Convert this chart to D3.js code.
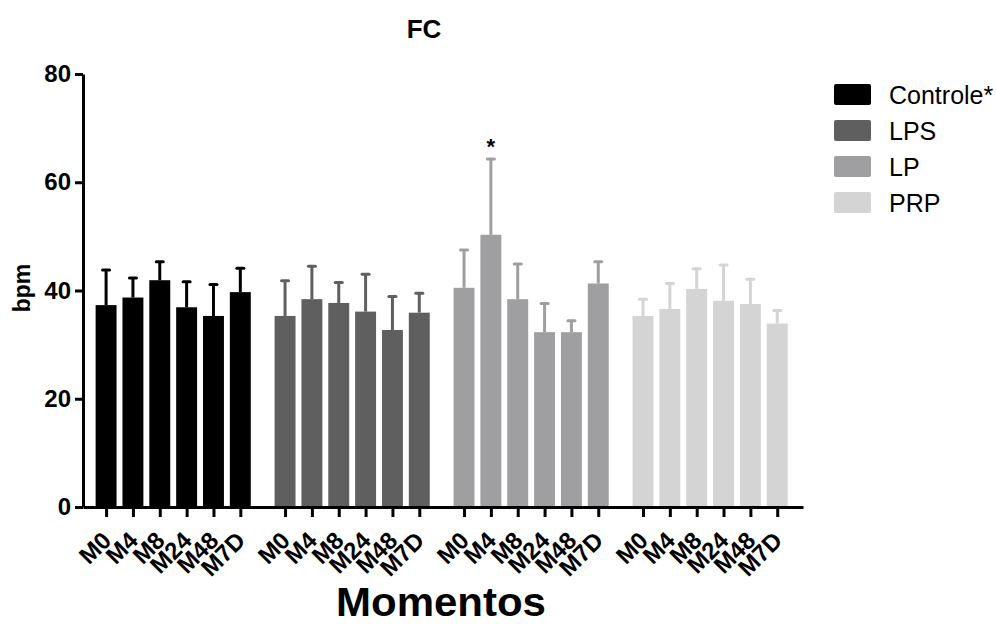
<!DOCTYPE html>
<html><head><meta charset="utf-8">
<script src="https://cdn.jsdelivr.net/npm/d3@7"></script>
<style>body{margin:0;background:#fff}svg{display:block}text{font-family:"Liberation Sans",Arial,sans-serif}</style>
</head><body>
<svg id="c" width="996" height="624"></svg>
<script>
const groups = ["Controle*", "LPS", "LP", "PRP"];
const moments = ["M0", "M4", "M8", "M24", "M48", "M7D"];
const colors = ["#000000", "#5f5f5f", "#9f9fa1", "#d4d4d4"];
const meanControle = [37.3, 38.7, 41.9, 36.9, 35.3, 39.7];
const sdControle   = [6.5, 3.6, 3.4, 4.7, 5.8, 4.4];
const meanLPS = [35.3, 38.4, 37.7, 36.1, 32.7, 35.9];
const sdLPS   = [6.5, 6.1, 3.8, 6.9, 6.2, 3.6];
const meanLP = [40.5, 50.3, 38.4, 32.3, 32.3, 41.3];
const sdLP   = [7.0, 14.0, 6.5, 5.3, 2.1, 4.0];
const meanPRP = [35.3, 36.6, 40.3, 38.1, 37.5, 33.9];
const sdPRP   = [3.1, 4.7, 3.7, 6.6, 4.6, 2.4];
const yTicks = [0, 20, 40, 60, 80];
const sigGroup = 2, sigMoment = 1;

const means = [meanControle, meanLPS, meanLP, meanPRP];
const sds = [sdControle, sdLPS, sdLP, sdPRP];
const gapSlots = 2/3;
const data = [];
groups.forEach((g, gi) => moments.forEach((m, mi) => data.push({
  g, gi, m, mi, v: means[gi][mi], sd: sds[gi][mi],
  pos: gi * (moments.length + gapSlots) + mi
})));

const svg = d3.select("#c");
const y = d3.scaleLinear().domain([0, 80]).range([507, 74]);
const x = d3.scaleLinear().domain([-0.86, 25.96]).range([83, 803]);
const bw = (x(1) - x(0)) * 0.78;

// bars
svg.append("g").selectAll("rect").data(data).join("rect")
  .attr("x", d => x(d.pos) - bw / 2).attr("width", bw)
  .attr("y", d => y(d.v)).attr("height", d => y(0) - y(d.v))
  .attr("fill", d => colors[d.gi]);

// error bars
const eb = svg.append("g").selectAll("g").data(data).join("g");
eb.append("line")
  .attr("x1", d => x(d.pos)).attr("x2", d => x(d.pos))
  .attr("y1", d => y(d.v)).attr("y2", d => y(d.v + d.sd))
  .attr("stroke", d => colors[d.gi]).attr("stroke-width", 3);
eb.append("line")
  .attr("x1", d => x(d.pos) - 3.5).attr("x2", d => x(d.pos) + 3.5)
  .attr("y1", d => y(d.v + d.sd)).attr("y2", d => y(d.v + d.sd))
  .attr("stroke", d => colors[d.gi]).attr("stroke-width", 3).attr("stroke-linecap", "round");

// significance star
const sd0 = data.find(d => d.gi === sigGroup && d.mi === sigMoment);
svg.append("text").attr("x", x(sd0.pos)).attr("y", y(sd0.v + sd0.sd) - 5)
  .attr("text-anchor", "middle").attr("font-size", 22).attr("font-weight", "bold").text("*");

// y axis
const ya = svg.append("g").attr("transform", "translate(83,0)")
  .call(d3.axisLeft(y).tickValues(yTicks).tickSize(8).tickSizeOuter(0).tickPadding(4));
ya.select(".domain").attr("stroke-width", 3);
ya.selectAll(".tick line").attr("stroke-width", 3);
ya.selectAll(".tick text").attr("font-size", 24).attr("font-weight", "bold")
  .attr("font-family", "Liberation Sans, Arial, sans-serif").attr("fill", "#000");

// x axis
const xa = svg.append("g").attr("transform", "translate(0,507)")
  .call(d3.axisBottom(x).tickValues(data.map(d => d.pos)).tickSize(10).tickSizeOuter(0)
    .tickFormat((p, i) => data[i].m));
xa.select(".domain").attr("stroke-width", 3);
xa.selectAll(".tick line").attr("stroke-width", 3);
xa.selectAll(".tick text").attr("font-size", 24).attr("font-weight", "bold")
  .attr("font-family", "Liberation Sans, Arial, sans-serif").attr("fill", "#000")
  .attr("text-anchor", "end").attr("dy", null).attr("y", 0)
  .attr("transform", "translate(6,35) rotate(-45)");

// title & axis labels
svg.append("text").attr("x", 424).attr("y", 38).attr("text-anchor", "middle")
  .attr("font-size", 26).attr("font-weight", "bold").text("FC");
svg.append("text").attr("transform", "translate(30,288) rotate(-90)").attr("text-anchor", "middle")
  .attr("font-size", 23).attr("font-weight", "bold").text("bpm");
svg.append("text").attr("transform", "translate(441,616) scale(1.05,1)").attr("text-anchor", "middle")
  .attr("font-size", 40).attr("font-weight", "bold").text("Momentos");

// legend
const lg = svg.append("g").selectAll("g").data(groups).join("g")
  .attr("transform", (d, i) => `translate(834,${84 + i * 36})`);
lg.append("rect").attr("width", 37).attr("height", 21).attr("rx", 2).attr("fill", (d, i) => colors[i]);
lg.append("text").attr("x", 55).attr("y", 20).attr("font-size", 25).text(d => d);
</script>
</body></html>
